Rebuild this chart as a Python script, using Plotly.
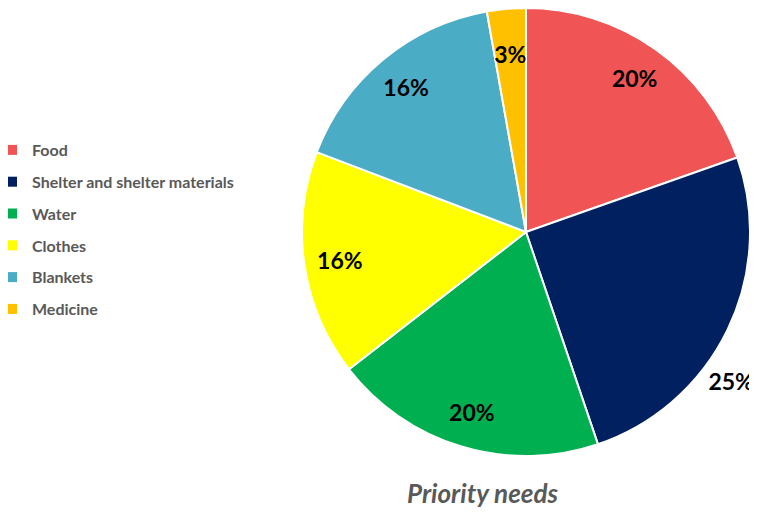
import plotly.graph_objects as go

categories = ["Food", "Shelter and shelter materials", "Water", "Clothes", "Blankets", "Medicine"]
values = [19.6, 25.2, 19.7, 16.3, 16.4, 2.8]
colors = ["#F05454", "#002060", "#00B050", "#FFFF00", "#4BACC6", "#FFC000"]
label_ring = ["mid", "out", "mid", "mid", "mid", "inner"]
title_text = "Priority needs"

W, H = 757, 512
OFF = 8  # page offset of the plot div


def dx(a, b):
    return [(a - OFF) / W, (b - OFF) / W]


def dy(top, bottom):
    return [1 - (bottom - OFF) / H, min(1.0, 1 - (top - OFF) / H)]


# main pie: centre (526, 232), radius 224 in page pixels
main_dom = dict(x=dx(302, 750), y=dy(8, 456))
# transparent helper pies that only position the percentage labels
ring_doms = {
    "mid": dict(x=dx(302, 750), y=dy(8, 456)),
    "inner": dict(x=dx(332, 720), y=dy(38, 426)),
    "out": dict(x=dx(331, 721), y=dy(98, 488)),
}

fig = go.Figure()

fig.add_trace(go.Pie(
    labels=categories, values=values, sort=False, direction="clockwise", rotation=0,
    marker=dict(colors=colors, line=dict(color="white", width=2)),
    textinfo="none", showlegend=False, domain=main_dom,
    hoverinfo="label+percent",
))

label_font = dict(family="Lato, Open Sans, sans-serif", size=23, color="black", weight="bold")

for ring, dom in ring_doms.items():
    pos = "outside" if ring == "out" else "inside"
    fig.add_trace(go.Pie(
        labels=categories, values=values, sort=False, direction="clockwise", rotation=0,
        hole=0 if ring == "out" else 0.68,
        marker=dict(colors=["rgba(0,0,0,0)"] * len(values), line=dict(width=0)),
        texttemplate=["%{percent:.0%}" if r == ring else "" for r in label_ring],
        textposition=[pos if r == ring else "none" for r in label_ring],
        insidetextorientation="horizontal",
        textfont=label_font, insidetextfont=label_font, outsidetextfont=label_font,
        showlegend=False, domain=dom, hoverinfo="skip",
    ))

for cat, col in zip(categories, colors):
    fig.add_trace(go.Scatter(
        x=[None], y=[None], mode="markers", name=cat, legendgroup=cat,
        marker=dict(symbol="square", size=10, color=col),
    ))

fig.update_layout(
    width=W, height=H,
    margin=dict(l=0, r=0, t=0, b=0, autoexpand=False),
    paper_bgcolor="white", plot_bgcolor="white",
    xaxis=dict(visible=False), yaxis=dict(visible=False),
    uniformtext=dict(minsize=23, mode="show"),
    legend=dict(
        x=(-8 - OFF) / W, y=1 - (133 - OFF) / H, xanchor="left", yanchor="top",
        font=dict(family="Lato, Open Sans, sans-serif", size=16, color="#595959", weight="bold"),
        tracegroupgap=8, itemwidth=30,
    ),
    annotations=[dict(
        text=title_text, x=(482 - OFF) / W, xanchor="center", y=1 - (493 - OFF) / H, yanchor="middle",
        xref="paper", yref="paper", showarrow=False,
        font=dict(family="Lato, Open Sans, sans-serif", size=26, color="#595959", weight="bold", style="italic"),
    )],
)

fig.write_html("out.html")
